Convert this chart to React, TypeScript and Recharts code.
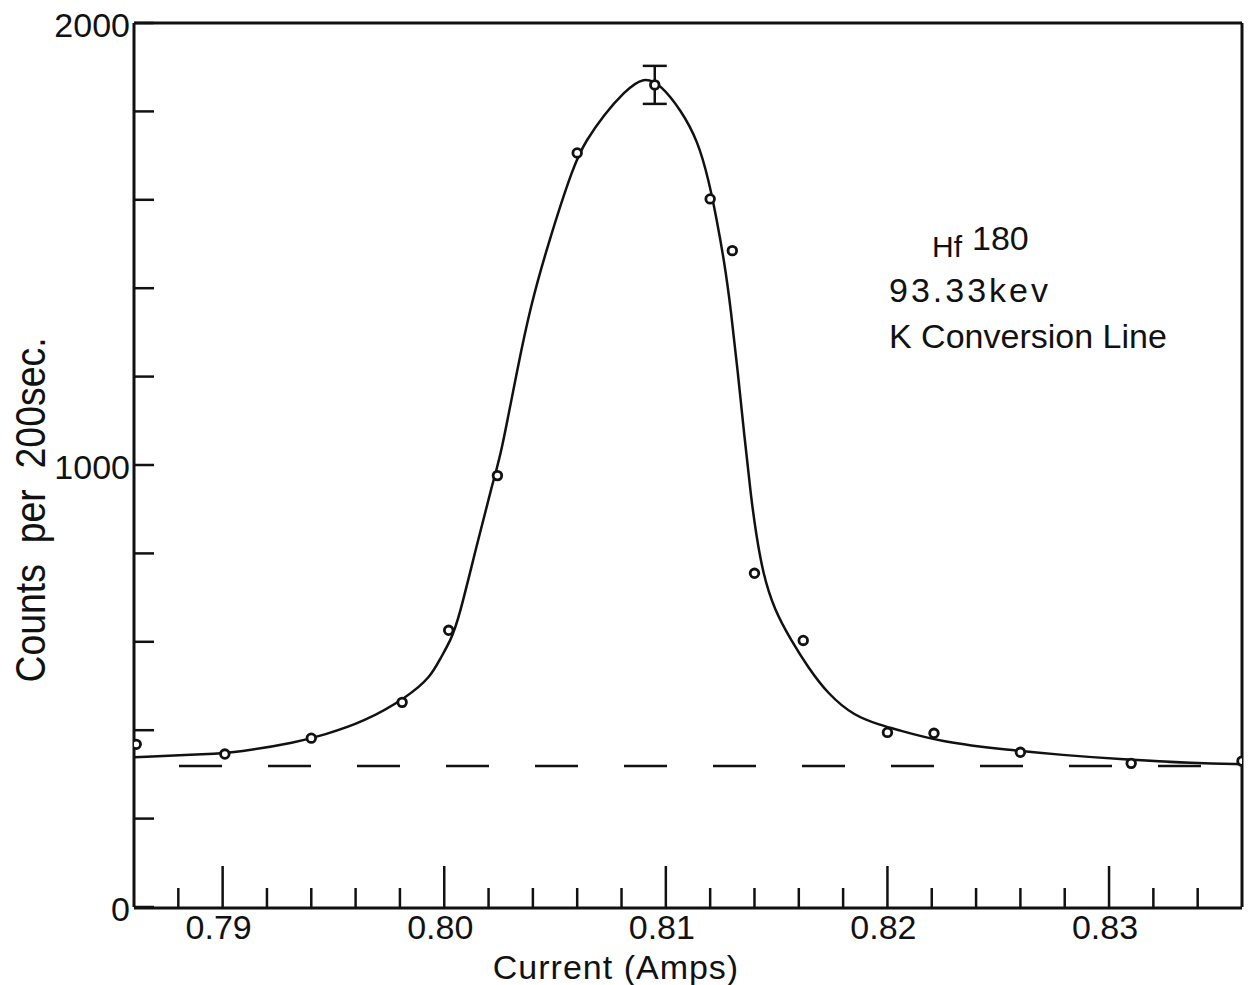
import React from "react"
import {
  ComposedChart,
  Line,
  Scatter,
  ErrorBar,
  XAxis,
  YAxis,
  ReferenceLine,
} from "recharts"

// measured points (current in amps, counts per 200 sec)
const POINT_X = [
  0.7861, 0.7901, 0.794, 0.7981, 0.8002, 0.8024, 0.806, 0.8095, 0.812, 0.813,
  0.814, 0.8162, 0.82, 0.8221, 0.826, 0.831, 0.836,
]
const POINT_Y = [
  368, 346, 382, 463, 626, 976, 1706, 1860, 1602, 1485, 755, 603, 395, 393, 350,
  325, 330,
]
const POINT_ERR = [0, 0, 0, 0, 0, 0, 0, 43, 0, 0, 0, 0, 0, 0, 0, 0, 0]

// hand drawn fit through the points
const CURVE_X = [
  0.786, 0.78944, 0.79066, 0.79337, 0.79454, 0.79635, 0.79834, 0.79938,
  0.79983, 0.80029, 0.80065, 0.80142, 0.80223, 0.80255, 0.80332, 0.8039,
  0.80467, 0.80585, 0.80639, 0.8072, 0.80811, 0.80901, 0.80978, 0.81068,
  0.81145, 0.81195, 0.81227, 0.81264, 0.81294, 0.81325, 0.81354, 0.81385,
  0.81407, 0.81438, 0.81489, 0.81566, 0.81642, 0.81733, 0.8185, 0.81973,
  0.82031, 0.82244, 0.82547, 0.82786, 0.83058, 0.83388, 0.836,
]
const CURVE_Y = [
  339, 346, 350, 373, 389, 418, 475, 520, 563, 603, 651, 809, 969, 1021, 1223,
  1360, 1498, 1681, 1733, 1792, 1844, 1880, 1860, 1803, 1733, 1641, 1562, 1460,
  1350, 1209, 1067, 925, 845, 755, 673, 603, 542, 481, 432, 411, 403, 373, 355,
  344, 334, 325, 323,
]

// background level (dashed)
const BASE_LEVEL = 319

const X_MAJOR = [0.79, 0.8, 0.81, 0.82, 0.83]
const X_MINOR = [
  0.788, 0.792, 0.794, 0.796, 0.798, 0.802, 0.804, 0.806, 0.808, 0.812, 0.814,
  0.816, 0.818, 0.822, 0.824, 0.826, 0.828, 0.832, 0.834,
]
const Y_TICKS = [0, 200, 400, 600, 800, 1000, 1200, 1400, 1600, 1800, 2000]
const Y_LABELED = [0, 1000, 2000]

const INK = "#111"
const FONT = "'Liberation Sans', Arial, sans-serif"

const points = POINT_X.map((x, i) => ({ x, y: POINT_Y[i], err: POINT_ERR[i] }))
const curve = CURVE_X.map((x, i) => ({ x, y: CURVE_Y[i] }))

function NoTick() {
  return null
}

function XTick(props: any) {
  const { x, y, payload } = props
  return (
    <text x={x - 4} y={y} textAnchor="middle" fontSize={34} fill={INK} fontFamily={FONT}>
      {Number(payload.value).toFixed(2)}
    </text>
  )
}

function YTick(props: any) {
  const { x, y, payload } = props
  if (!Y_LABELED.includes(payload.value)) return null
  return (
    <text x={x} y={y + 14} textAnchor="end" fontSize={34} fill={INK} fontFamily={FONT}>
      {payload.value}
    </text>
  )
}

function Dot(props: any) {
  const { cx, cy } = props
  return <circle cx={cx} cy={cy} r={4.3} fill="#fff" stroke={INK} strokeWidth={2.8} />
}

export default function App() {
  return (
    <div style={{ position: "absolute", left: 0, top: 0, width: 1252, height: 985, background: "#fff" }}>
      <ComposedChart
        width={1252}
        height={985}
        margin={{ top: 22, right: 9, bottom: 76, left: 133 }}
      >
        <XAxis
          xAxisId="minor"
          type="number"
          dataKey="x"
          domain={[0.786, 0.836]}
          allowDataOverflow
          ticks={X_MINOR}
          interval={0}
          height={1}
          tick={<NoTick />}
          tickSize={-20}
          axisLine={{ stroke: INK, strokeWidth: 3 }}
          tickLine={{ stroke: INK, strokeWidth: 2.5 }}
          label={{
            content: ({ viewBox }: any) => (
              <text
                x={viewBox.x + viewBox.width / 2 - 72}
                y={viewBox.y + 71}
                textAnchor="middle"
                fontSize={34}
                letterSpacing={1}
                fill={INK}
                fontFamily={FONT}
              >
                Current (Amps)
              </text>
            ),
          }}
        />
        <XAxis
          xAxisId="major"
          type="number"
          dataKey="x"
          domain={[0.786, 0.836]}
          allowDataOverflow
          ticks={X_MAJOR}
          interval={0}
          height={1}
          tickSize={-41}
          tickMargin={73}
          axisLine={false}
          tickLine={{ stroke: INK, strokeWidth: 2.5 }}
          tick={<XTick />}
        />
        <XAxis
          xAxisId="top"
          orientation="top"
          type="number"
          domain={[0.786, 0.836]}
          height={1}
          tick={false}
          tickLine={false}
          axisLine={{ stroke: INK, strokeWidth: 3 }}
        />
        <YAxis
          yAxisId="left"
          type="number"
          domain={[0, 2000]}
          allowDataOverflow
          ticks={Y_TICKS}
          interval={0}
          width={1}
          tickSize={-20}
          tickMargin={24}
          axisLine={{ stroke: INK, strokeWidth: 3 }}
          tickLine={{ stroke: INK, strokeWidth: 2.5 }}
          tick={<YTick />}
          label={{
            content: ({ viewBox }: any) => {
              const lx = viewBox.x + viewBox.width - 89
              const ly = viewBox.y + viewBox.height / 2 + 45
              return (
                <text
                  x={0}
                  y={0}
                  transform={`translate(${lx}, ${ly}) rotate(-90) scale(0.87, 1)`}
                  textAnchor="middle"
                  fontSize={43}
                  fill={INK}
                  fontFamily={FONT}
                  style={{ whiteSpace: "pre" }}
                >
                  {"Counts  per  200sec."}
                </text>
              )
            },
          }}
        />
        <YAxis
          yAxisId="right"
          orientation="right"
          type="number"
          domain={[0, 2000]}
          width={1}
          tick={false}
          tickLine={false}
          axisLine={{ stroke: INK, strokeWidth: 3 }}
        />
        <ReferenceLine
          xAxisId="minor"
          yAxisId="left"
          y={BASE_LEVEL}
          stroke={INK}
          strokeWidth={2.5}
          strokeDasharray="43 46"
          strokeDashoffset={44}
        />
        <Line
          xAxisId="minor"
          yAxisId="left"
          data={curve}
          dataKey="y"
          type="basis"
          stroke={INK}
          strokeWidth={2.5}
          dot={false}
          isAnimationActive={false}
        />
        <Scatter
          xAxisId="minor"
          yAxisId="left"
          data={points}
          dataKey="y"
          shape={<Dot />}
          isAnimationActive={false}
        >
          <ErrorBar dataKey="err" direction="y" width={12} stroke={INK} strokeWidth={2.5} />
        </Scatter>
      </ComposedChart>
      <svg
        width={1252}
        height={985}
        style={{ position: "absolute", left: 0, top: 0, pointerEvents: "none" }}
        fontFamily={FONT}
        fill={INK}
      >
        <text x={932} y={257} fontSize={30}>Hf</text>
        <text x={972} y={250} fontSize={34}>180</text>
        <text x={889} y={302} fontSize={34} letterSpacing={3}>93.33kev</text>
        <text x={889} y={348} fontSize={34}>K Conversion Line</text>
      </svg>
    </div>
  )
}
